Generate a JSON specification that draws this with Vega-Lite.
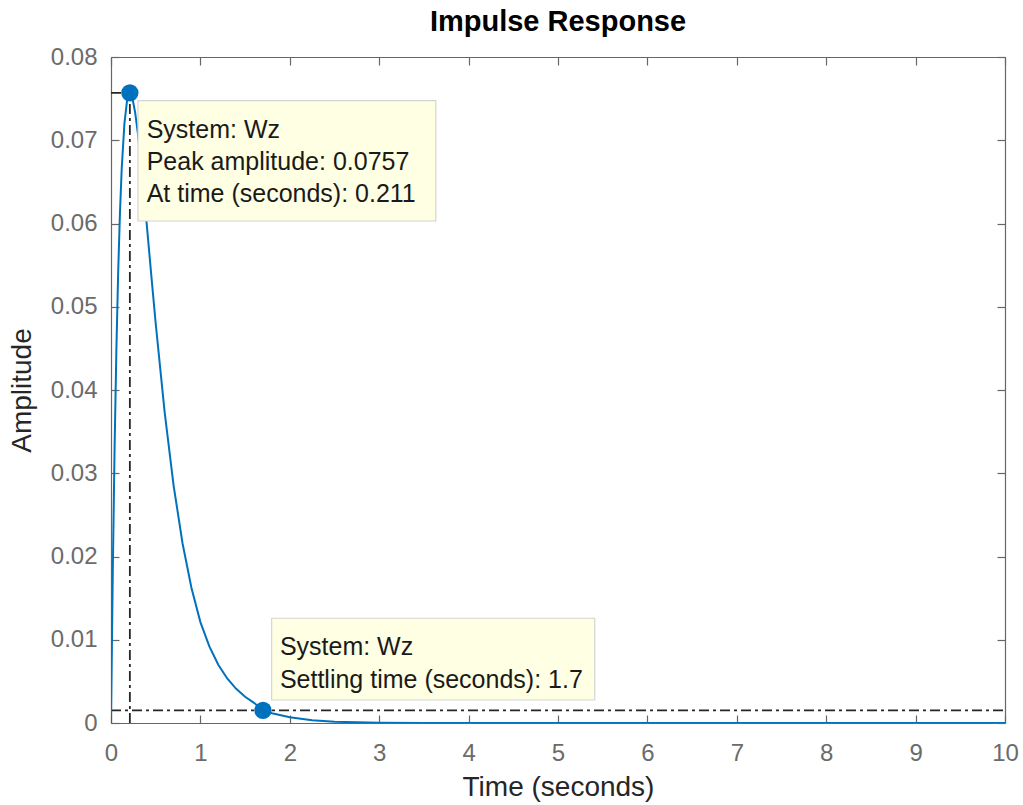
{
  "$schema": "https://vega.github.io/schema/vega-lite/v6.json",
  "autosize": {"type": "none"},
  "width": 894,
  "height": 666,
  "padding": {"left": 111, "top": 57, "right": 18, "bottom": 82},
  "background": "white",
  "title": {
    "text": "Impulse Response",
    "font": "Liberation Sans",
    "fontSize": 29,
    "fontWeight": "bold",
    "color": "#000000",
    "anchor": "middle",
    "baseline": "bottom",
    "offset": -21
  },
  "config": {
    "view": {"stroke": null},
    "axis": {
      "grid": false,
      "domainColor": "#666666",
      "domainWidth": 1.2,
      "tickColor": "#666666",
      "tickWidth": 1.2,
      "tickSize": -8,
      "labelFlush": false,
      "labelFont": "Liberation Sans",
      "labelFontSize": 24,
      "labelColor": "#6b6b6b",
      "titleFont": "Liberation Sans",
      "titleFontSize": 28,
      "titleFontWeight": "normal",
      "titleColor": "#262626"
    }
  },
  "datasets": {
    "curve": [
      {"t": 0, "a": 0},
      {"t": 0.02, "a": 0.01819},
      {"t": 0.04, "a": 0.03292},
      {"t": 0.06, "a": 0.04472},
      {"t": 0.08, "a": 0.05402},
      {"t": 0.10, "a": 0.06121},
      {"t": 0.12, "a": 0.06663},
      {"t": 0.15, "a": 0.07201},
      {"t": 0.18, "a": 0.07481},
      {"t": 0.211, "a": 0.0757},
      {"t": 0.24, "a": 0.07503},
      {"t": 0.27, "a": 0.07334},
      {"t": 0.30, "a": 0.07089},
      {"t": 0.35, "a": 0.06572},
      {"t": 0.40, "a": 0.05987},
      {"t": 0.45, "a": 0.05386},
      {"t": 0.50, "a": 0.04799},
      {"t": 0.60, "a": 0.03735},
      {"t": 0.70, "a": 0.02855},
      {"t": 0.80, "a": 0.02159},
      {"t": 0.90, "a": 0.01621},
      {"t": 1.0, "a": 0.01212},
      {"t": 1.1, "a": 0.00920},
      {"t": 1.2, "a": 0.00700},
      {"t": 1.3, "a": 0.00535},
      {"t": 1.4, "a": 0.00410},
      {"t": 1.5, "a": 0.00315},
      {"t": 1.6, "a": 0.00242},
      {"t": 1.7, "a": 0.00151},
      {"t": 1.8, "a": 0.00118},
      {"t": 2.0, "a": 0.00068},
      {"t": 2.25, "a": 0.00033},
      {"t": 2.5, "a": 0.00016},
      {"t": 2.75, "a": 0.00008},
      {"t": 3.0, "a": 0.00004},
      {"t": 3.5, "a": 0.00001},
      {"t": 4.0, "a": 0.000002},
      {"t": 5.0, "a": 0},
      {"t": 6.0, "a": 0},
      {"t": 7.0, "a": 0},
      {"t": 8.0, "a": 0},
      {"t": 9.0, "a": 0},
      {"t": 10.0, "a": 0}
    ],
    "characteristics": [
      {"name": "Peak", "t": 0.211, "a": 0.0757},
      {"name": "Settling", "t": 1.7, "a": 0.00151}
    ],
    "guides": [
      {"t": 0, "t2": 0.211, "a": 0.0757, "a2": 0.0757},
      {"t": 0.211, "t2": 0.211, "a": 0, "a2": 0.0757},
      {"t": 0, "t2": 10, "a": 0.00151, "a2": 0.00151}
    ],
    "tips": [
      {"name": "Peak", "t0": 0.302, "t1": 3.633, "a0": 0.0603, "a1": 0.07475},
      {"name": "Settling", "t0": 1.797, "t1": 5.411, "a0": 0.00276, "a1": 0.01258}
    ],
    "tipText": [
      {"t": 0.399, "a": 0.07023, "text": "System: Wz"},
      {"t": 0.399, "a": 0.06643, "text": "Peak amplitude: 0.0757"},
      {"t": 0.399, "a": 0.06262, "text": "At time (seconds): 0.211"},
      {"t": 1.889, "a": 0.00817, "text": "System: Wz"},
      {"t": 1.889, "a": 0.00417, "text": "Settling time (seconds): 1.7"}
    ]
  },
  "resolve": {"axis": {"x": "independent", "y": "independent"}},
  "layer": [
    {
      "data": {"name": "guides"},
      "mark": {"type": "rule", "color": "#262626", "strokeWidth": 1.8, "strokeDash": [10, 4, 3, 4]},
      "encoding": {
        "x": {"field": "t", "type": "quantitative", "scale": {"domain": [0, 10], "nice": false},
          "axis": {"orient": "top", "labels": false, "title": null, "values": [0, 1, 2, 3, 4, 5, 6, 7, 8, 9, 10]}},
        "x2": {"field": "t2"},
        "y": {"field": "a", "type": "quantitative", "scale": {"domain": [0, 0.08], "nice": false},
          "axis": {"orient": "right", "labels": false, "title": null, "values": [0, 0.01, 0.02, 0.03, 0.04, 0.05, 0.06, 0.07, 0.08]}},
        "y2": {"field": "a2"}
      }
    },
    {
      "data": {"name": "curve"},
      "mark": {"type": "line", "color": "#0072BD", "strokeWidth": 2, "clip": true},
      "encoding": {
        "x": {"field": "t", "type": "quantitative", "scale": {"domain": [0, 10], "nice": false},
          "axis": {"orient": "bottom", "title": "Time (seconds)", "values": [0, 1, 2, 3, 4, 5, 6, 7, 8, 9, 10], "labelPadding": 26, "titlePadding": 8}},
        "y": {"field": "a", "type": "quantitative", "scale": {"domain": [0, 0.08], "nice": false},
          "axis": {"orient": "left", "title": "Amplitude", "format": ".2~f", "values": [0, 0.01, 0.02, 0.03, 0.04, 0.05, 0.06, 0.07, 0.08], "labelPadding": 22, "titlePadding": 14}}
      }
    },
    {
      "data": {"name": "characteristics"},
      "mark": {"type": "point", "filled": true, "shape": "circle", "color": "#0072BD", "opacity": 1, "size": 300},
      "encoding": {
        "x": {"field": "t", "type": "quantitative", "axis": null},
        "y": {"field": "a", "type": "quantitative", "axis": null}
      }
    },
    {
      "data": {"name": "tips"},
      "mark": {"type": "rect", "fill": "#FFFFE3", "stroke": "#D4D4D4", "strokeWidth": 1.2},
      "encoding": {
        "x": {"field": "t0", "type": "quantitative", "axis": null},
        "x2": {"field": "t1"},
        "y": {"field": "a0", "type": "quantitative", "axis": null},
        "y2": {"field": "a1"}
      }
    },
    {
      "data": {"name": "tipText"},
      "mark": {"type": "text", "align": "left", "baseline": "alphabetic", "font": "Liberation Sans", "fontSize": 25, "color": "#1a1a1a"},
      "encoding": {
        "x": {"field": "t", "type": "quantitative", "axis": null},
        "y": {"field": "a", "type": "quantitative", "axis": null},
        "text": {"field": "text"}
      }
    }
  ]
}
